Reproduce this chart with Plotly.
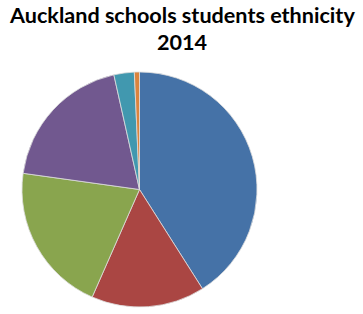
import plotly.graph_objects as go

labels = ["European/Pākehā", "Māori", "Pasifika", "Asian", "MELAA", "Other"]
values = [41.0, 15.6, 20.6, 19.3, 2.8, 0.7]
colors = ["#4572A7", "#AA4643", "#89A54E", "#71588F", "#4198AF", "#DB843D"]
title_lines = ["Auckland schools students ethnicity", "2014"]

W, H = 363, 314
fig = go.Figure(go.Pie(
    labels=labels, values=values, sort=False, direction="clockwise", rotation=0,
    marker=dict(colors=colors, line=dict(color="#DDDDDD", width=0.8)),
    textinfo="none", hoverinfo="label+percent",
    domain=dict(x=[22 / W, 257 / W], y=[7 / H, 242 / H]),
))
for i, (txt, yc) in enumerate(zip(title_lines, [15, 42])):
    fig.add_annotation(text="<b>%s</b>" % txt, x=0.5, xref="paper", xanchor="center",
                       y=1 - yc / H, yref="paper", yanchor="middle", showarrow=False,
                       font=dict(family="Lato", size=21.6, color="black"))
fig.update_layout(
    width=W, height=H, margin=dict(l=0, r=0, t=0, b=0),
    paper_bgcolor="white", showlegend=False,
)
fig.write_html("out.html")
